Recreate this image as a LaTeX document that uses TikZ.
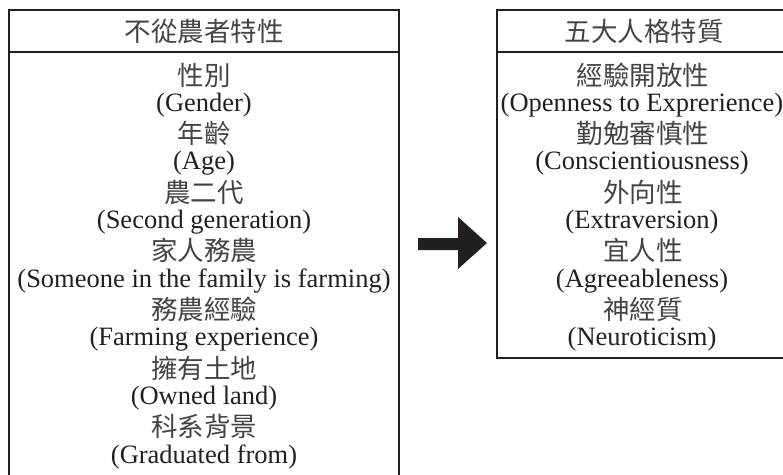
\documentclass[tikz,border=0pt]{standalone}
\usepackage{fontspec}
\setmainfont{Liberation Serif}
\newfontfamily\cjk{Noto Sans CJK TC}
\definecolor{ink}{HTML}{231F20}
\definecolor{cjkink}{HTML}{464344}
\begin{document}
\begin{tikzpicture}[x=1pt,y=-1pt,
  frame/.style={draw=ink,line width=2pt},
  en/.style={text=ink,inner sep=0pt,anchor=center,font=\fontsize{26.5}{28.6}\selectfont},
  zh/.style={text=cjkink,inner sep=0pt,anchor=center,font=\fontsize{26.5}{28.6}\selectfont\cjk}]
\useasboundingbox (0,0) rectangle (783,474);
\begin{scope}
\clip (0,0) rectangle (783,474);
% left box
\draw[frame] (9,10) rectangle (399,490);
\draw[frame] (9,52) -- (399,52);
% right box
\draw[frame] (497,10) rectangle (791,358);
\draw[frame] (497,52) -- (791,52);
\end{scope}
\node[zh] (lh) at (204,31) {不從農者特性};
\node[zh] (rh) at (644,31) {五大人格特質};
% left items
\foreach \t [count=\i from 0] in {性別,年齡,農二代,家人務農,務農經驗,擁有土地,科系背景}
  \node[zh] (lz\i) at (204,{75+58.6*\i}) {\t};
\foreach \t [count=\i from 0] in {(Gender),(Age),(Second generation),(Someone in the family is farming),(Farming experience),(Owned land),(Graduated from)}
  \node[en] (le\i) at (204,{105+58.6*\i}) {\t};
% right items
\foreach \t [count=\i from 0] in {經驗開放性,勤勉審慎性,外向性,宜人性,神經質}
  \node[zh] (rz\i) at (643,{75+58.6*\i}) {\t};
\foreach \t [count=\i from 0] in {(Openness to Exprerience),(Conscientiousness),(Extraversion),(Agreeableness),(Neuroticism)}
  \node[en] (re\i) at (642,{105+58.6*\i}) {\t};
% block arrow
\fill[ink] (418,238) -- (458,238) -- (458,217) -- (487,243) -- (458,269) -- (458,250) -- (418,250) -- cycle;
\end{tikzpicture}
\end{document}
